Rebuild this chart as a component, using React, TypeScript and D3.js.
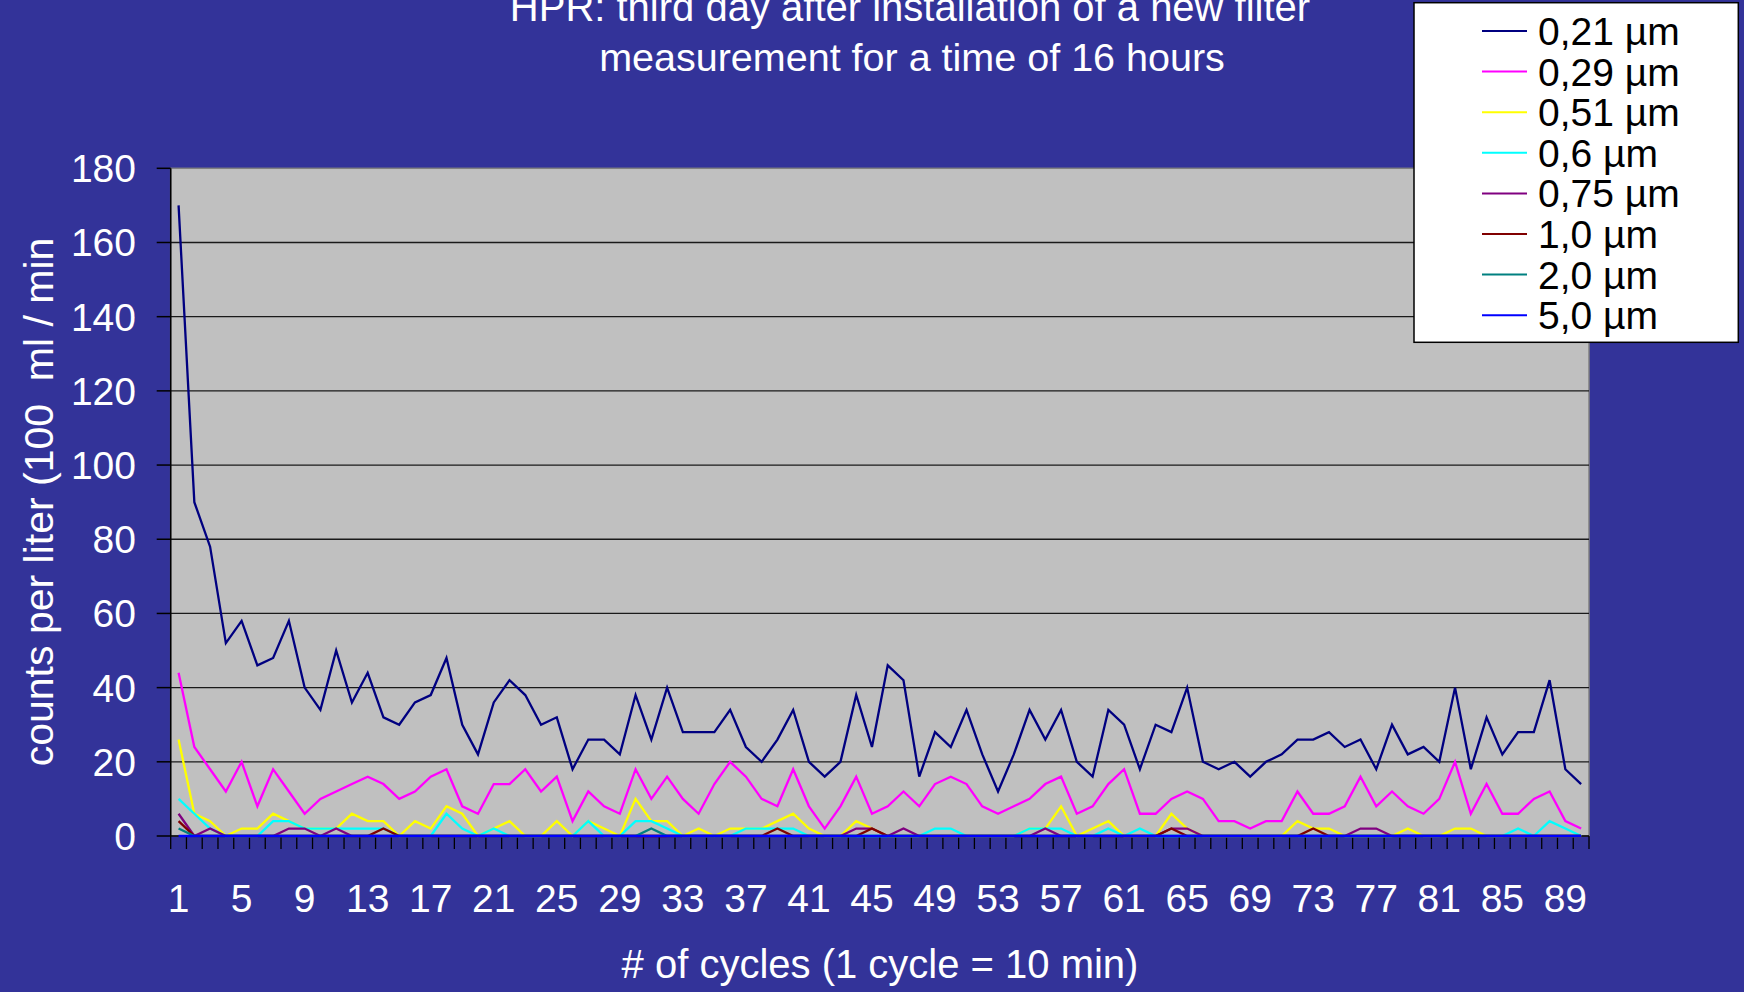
import React from "react";
import * as d3 from "d3";

const cycles: number[] = Array.from({ length: 90 }, (_, i) => i + 1);

const s021 = [170, 90, 78, 52, 58, 46, 48, 58, 40, 34, 50, 36, 44, 32, 30, 36, 38, 48, 30, 22, 36, 42, 38, 30, 32, 18, 26, 26, 22, 38, 26, 40, 28, 28, 28, 34, 24, 20, 26, 34, 20, 16, 20, 38, 24, 46, 42, 16, 28, 24, 34, 22, 12, 22, 34, 26, 34, 20, 16, 34, 30, 18, 30, 28, 40, 20, 18, 20, 16, 20, 22, 26, 26, 28, 24, 26, 18, 30, 22, 24, 20, 40, 18, 32, 22, 28, 28, 42, 18, 14];
const s029 = [44, 24, 18, 12, 20, 8, 18, 12, 6, 10, 12, 14, 16, 14, 10, 12, 16, 18, 8, 6, 14, 14, 18, 12, 16, 4, 12, 8, 6, 18, 10, 16, 10, 6, 14, 20, 16, 10, 8, 18, 8, 2, 8, 16, 6, 8, 12, 8, 14, 16, 14, 8, 6, 8, 10, 14, 16, 6, 8, 14, 18, 6, 6, 10, 12, 10, 4, 4, 2, 4, 4, 12, 6, 6, 8, 16, 8, 12, 8, 6, 10, 20, 6, 14, 6, 6, 10, 12, 4, 2];
const s051 = [26, 6, 4, 0, 2, 2, 6, 4, 2, 2, 2, 6, 4, 4, 0, 4, 2, 8, 6, 0, 2, 4, 0, 0, 4, 0, 4, 2, 0, 10, 4, 4, 0, 2, 0, 2, 2, 2, 4, 6, 2, 0, 0, 4, 2, 0, 0, 0, 0, 0, 0, 0, 0, 0, 2, 2, 8, 0, 2, 4, 0, 0, 0, 6, 2, 0, 0, 0, 0, 0, 0, 4, 2, 2, 0, 0, 0, 0, 2, 0, 0, 2, 2, 0, 0, 0, 0, 0, 0, 0];
const s06 = [10, 6, 2, 0, 0, 0, 4, 4, 2, 2, 2, 2, 2, 2, 0, 0, 0, 6, 2, 0, 2, 0, 0, 0, 0, 0, 4, 0, 0, 4, 4, 2, 0, 0, 0, 0, 2, 2, 2, 2, 0, 0, 0, 0, 0, 0, 0, 0, 2, 2, 0, 0, 0, 0, 2, 2, 2, 0, 0, 2, 0, 2, 0, 0, 0, 0, 0, 0, 0, 0, 0, 0, 0, 0, 0, 0, 0, 0, 0, 0, 0, 0, 0, 0, 0, 2, 0, 4, 2, 0];
const s075 = [6, 0, 2, 0, 0, 0, 0, 2, 2, 0, 2, 0, 0, 0, 0, 0, 0, 0, 0, 0, 0, 0, 0, 0, 0, 0, 0, 0, 0, 0, 0, 0, 0, 0, 0, 0, 0, 0, 0, 0, 0, 0, 0, 2, 2, 0, 2, 0, 0, 0, 0, 0, 0, 0, 0, 2, 0, 0, 0, 0, 0, 0, 0, 2, 2, 0, 0, 0, 0, 0, 0, 0, 0, 0, 0, 2, 2, 0, 0, 0, 0, 0, 0, 0, 0, 0, 0, 0, 0, 0];
const s10 = [4, 0, 0, 0, 0, 0, 0, 0, 0, 0, 0, 0, 0, 2, 0, 0, 0, 0, 0, 0, 0, 0, 0, 0, 0, 0, 0, 0, 0, 0, 0, 0, 0, 0, 0, 0, 0, 0, 2, 0, 0, 0, 0, 0, 2, 0, 0, 0, 0, 0, 0, 0, 0, 0, 0, 0, 0, 0, 0, 0, 0, 0, 0, 2, 0, 0, 0, 0, 0, 0, 0, 0, 2, 0, 0, 0, 0, 0, 0, 0, 0, 0, 0, 0, 0, 0, 0, 0, 0, 0];
const s20 = [2, 0, 0, 0, 0, 0, 0, 0, 0, 0, 0, 0, 0, 0, 0, 0, 0, 0, 0, 0, 0, 0, 0, 0, 0, 0, 0, 0, 0, 0, 2, 0, 0, 0, 0, 0, 0, 0, 0, 0, 0, 0, 0, 0, 0, 0, 0, 0, 0, 0, 0, 0, 0, 0, 0, 0, 0, 0, 0, 0, 0, 0, 0, 0, 0, 0, 0, 0, 0, 0, 0, 0, 0, 0, 0, 0, 0, 0, 0, 0, 0, 0, 0, 0, 0, 0, 0, 0, 0, 0];
const s50 = [0, 0, 0, 0, 0, 0, 0, 0, 0, 0, 0, 0, 0, 0, 0, 0, 0, 0, 0, 0, 0, 0, 0, 0, 0, 0, 0, 0, 0, 0, 0, 0, 0, 0, 0, 0, 0, 0, 0, 0, 0, 0, 0, 0, 0, 0, 0, 0, 0, 0, 0, 0, 0, 0, 0, 0, 0, 0, 0, 0, 0, 0, 0, 0, 0, 0, 0, 0, 0, 0, 0, 0, 0, 0, 0, 0, 0, 0, 0, 0, 0, 0, 0, 0, 0, 0, 0, 0, 0, 0];

const seriesNames = ["0,21 µm", "0,29 µm", "0,51 µm", "0,6 µm", "0,75 µm", "1,0 µm", "2,0 µm", "5,0 µm"];
const seriesColors = ["#000080", "#FF00FF", "#FFFF00", "#00FFFF", "#800080", "#800000", "#008080", "#0000FF"];
const seriesValues = [s021, s029, s051, s06, s075, s10, s20, s50];

const yTicks = [0, 20, 40, 60, 80, 100, 120, 140, 160, 180];
const xTickLabels = cycles.filter((c) => (c - 1) % 4 === 0);

const titleLines = ["HPR: third day after installation of a new filter", "measurement for a time of 16 hours"];
const xTitle = "# of cycles (1 cycle = 10 min)";
const yTitle = "counts per liter (100\u00A0 ml / min";

const FONT = "'Liberation Sans', Arial, Helvetica, sans-serif";

export default function App() {
  const W = 1744;
  const H = 992;
  const left = 170.7;
  const right = 1589;
  const top = 168.3;
  const bottom = 836;

  const x = d3.scaleBand<number>().domain(cycles).range([left, right]).paddingInner(0).paddingOuter(0);
  const bw = x.bandwidth();
  const cx = (c: number) => (x(c) as number) + bw / 2;
  const y = d3.scaleLinear().domain([0, 180]).range([bottom, top]);

  const line = d3
    .line<number>()
    .x((_, i) => cx(cycles[i]))
    .y((v) => y(v));

  const boundaries = cycles.map((c) => x(c) as number).concat([right]);

  return (
    <div style={{ position: "fixed", left: 0, top: 0, width: W, height: H }}>
      <svg width={W} height={H} style={{ display: "block", position: "absolute", left: 0, top: 0 }} fontFamily={FONT}>
        <rect x={0} y={0} width={W} height={H} fill="#333399" />
        {/* plot area */}
        <rect x={left} y={top} width={right - left} height={bottom - top} fill="#C0C0C0" stroke="#808080" strokeWidth={1.5} />
        {/* gridlines */}
        {yTicks.filter((t) => t > 0 && t < 180).map((t) => (
          <line key={"g" + t} x1={left} x2={right} y1={y(t)} y2={y(t)} stroke="#1a1a1a" strokeWidth={1.3} />
        ))}
        {/* y axis */}
        <line x1={left} x2={left} y1={top} y2={bottom} stroke="#000" strokeWidth={1.5} />
        {yTicks.map((t) => (
          <g key={"yt" + t}>
            <line x1={left - 14} x2={left} y1={y(t)} y2={y(t)} stroke="#000" strokeWidth={1.5} />
            <text x={136} y={y(t) + 14} fill="#fff" fontSize={39} textAnchor="end">
              {t}
            </text>
          </g>
        ))}
        {/* x axis */}
        <line x1={left} x2={right} y1={bottom} y2={bottom} stroke="#000" strokeWidth={1.5} />
        {boundaries.map((b, i) => (
          <line key={"xt" + i} x1={b} x2={b} y1={bottom} y2={bottom + 13} stroke="#000" strokeWidth={1.3} />
        ))}
        {xTickLabels.map((c) => (
          <text key={"xl" + c} x={cx(c)} y={912} fill="#fff" fontSize={39} textAnchor="middle">
            {c}
          </text>
        ))}
        {/* series */}
        {seriesValues.map((vals, si) => (
          <path key={"s" + si} d={line(vals) || ""} fill="none" stroke={seriesColors[si]} strokeWidth={2.3} strokeLinejoin="miter" />
        ))}
        {/* titles */}
        <text x={910} y={20.7} fill="#fff" fontSize={40} textAnchor="middle">
          {titleLines[0]}
        </text>
        <text x={912} y={71} fill="#fff" fontSize={39.5} textAnchor="middle">
          {titleLines[1]}
        </text>
        <text x={880} y={978} fill="#fff" fontSize={40} textAnchor="middle">
          {xTitle}
        </text>
        <text transform={`translate(53, 502) rotate(-90)`} fill="#fff" fontSize={41} textAnchor="middle">
          {yTitle}
        </text>
        {/* legend */}
        <rect x={1414} y={2.7} width={324.3} height={339.6} fill="#fff" stroke="#000" strokeWidth={1.5} />
        {seriesNames.map((n, i) => {
          const ry = 31 + i * 40.6;
          return (
            <g key={"lg" + i}>
              <line x1={1482} x2={1527} y1={ry} y2={ry} stroke={seriesColors[i]} strokeWidth={2} />
              <text x={1538} y={ry + 14} fill="#000" fontSize={39}>
                {n}
              </text>
            </g>
          );
        })}
      </svg>
    </div>
  );
}
